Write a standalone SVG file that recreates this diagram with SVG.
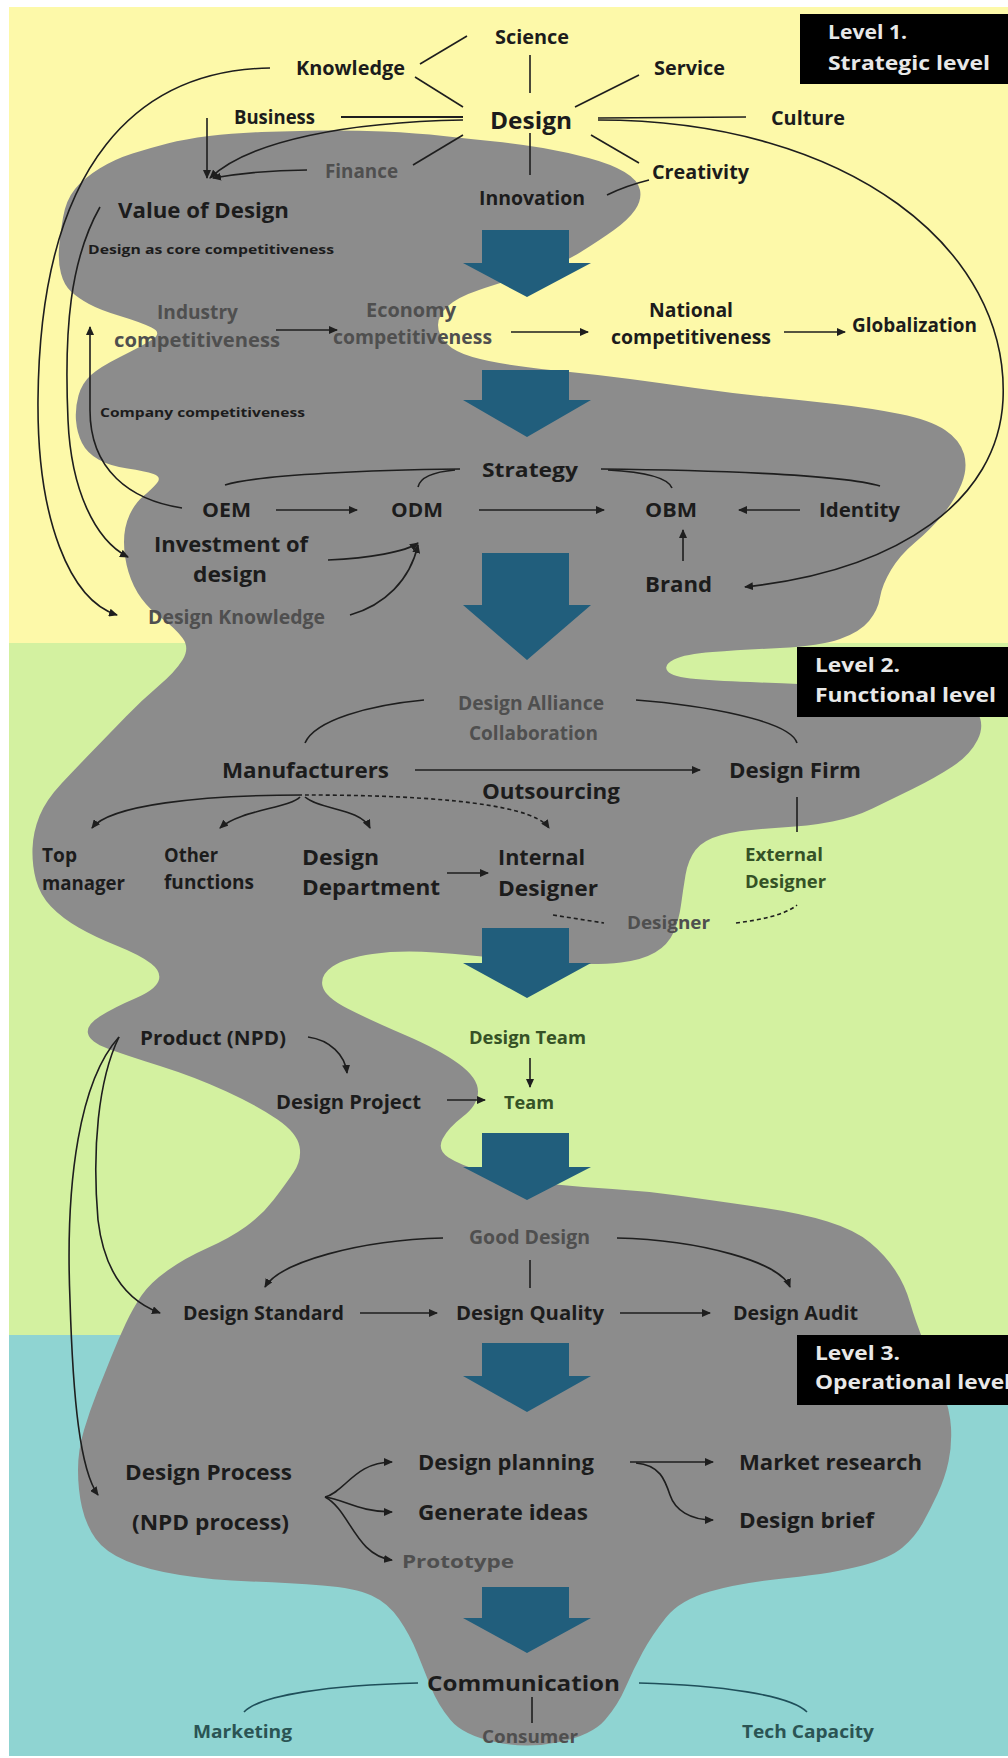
<svg xmlns="http://www.w3.org/2000/svg" width="1008" height="1758" viewBox="0 0 1008 1758">
<style>
.t{font-family:"Open Sans","Liberation Sans",sans-serif;font-weight:700;fill:#1c1c1c}
.s19{font-size:19px}.s18{font-size:18px}.s20{font-size:20px}.s21{font-size:21px}.s22{font-size:22px}.s24{font-size:24px}.s12{font-size:12px}
.g{fill:#4f4f4f}
.gr{fill:#355226}
.tl{fill:#2b5454}
.lv{fill:#e8e8e8;font-size:20px}
.ln{fill:none;stroke:#1e1e1e;stroke-width:1.6}
.ar{marker-end:url(#ah)}
.dash{stroke-dasharray:4 3}
.teal{stroke:#1f4f5a}
.big{fill:#215e7c}
</style>
<defs>
<marker id="ah" markerWidth="9" markerHeight="8" refX="8" refY="4" orient="auto" markerUnits="userSpaceOnUse">
<path d="M0,0 L9,4 L0,8 z" fill="#1e1e1e"/>
</marker>
</defs>

<!-- level bands -->
<rect x="0" y="0" width="1008" height="1758" fill="#ffffff"/>
<rect x="9" y="7" width="999" height="636" fill="#fdf9a9"/>
<rect x="9" y="643" width="999" height="692" fill="#d3f1a0"/>
<rect x="9" y="1335" width="999" height="421" fill="#8fd4d2"/>

<!-- grey flow region -->
<path id="flow" fill="#8c8c8c" d="M59,248.5 Q60,235 63,217.5 Q66,200 75,189 Q84,178 99.5,168.5 Q115,159 132.5,153.5 Q150,148 167.5,143.5 Q185,139 209,136 Q233,133 261.5,132 Q290,131 320,130.5 Q350,130 383.5,131.5 Q417,133 443.5,136 Q470,139 495,141.5 Q520,144 543,148 Q566,152 588.5,158 Q611,164 624.5,172 Q638,180 640,190 Q642,200 635,210 Q628,220 614,230 Q600,240 580,252.5 Q560,265 530,274 Q500,283 479,290 Q458,297 448,306 Q438,315 438,325 Q438,335 446.5,343.5 Q455,352 472.5,357 Q490,362 515,365.5 Q540,369 570,372 Q600,375 630,379 Q660,383 695,388 Q730,393 765,396.5 Q800,400 835,404 Q870,408 900,414 Q930,420 945,430 Q960,440 964,454 Q968,468 961.5,484 Q955,500 942.5,515 Q930,530 915,542.5 Q900,555 891,570 Q882,585 880,597.5 Q878,610 869,621 Q860,632 840,639 Q820,646 780,648 Q740,650 712.5,652 Q685,654 674,659.5 Q663,665 667.5,671 Q672,677 696,679 Q720,681 760,682.5 Q800,684 850,687 Q900,690 935,695 Q970,700 977.5,712.5 Q985,725 977.5,740 Q970,755 952.5,766.5 Q935,778 912.5,789 Q890,800 872.5,808.5 Q855,817 832.5,821.5 Q810,826 775,828 Q740,830 721.5,835 Q703,840 695.5,850 Q688,860 685.5,875 Q683,890 681,905 Q679,920 673.5,932.5 Q668,945 655,952.5 Q642,960 621,962.5 Q600,965 565,963.5 Q530,962 500,958.5 Q470,955 435,952.5 Q400,950 372.5,954 Q345,958 332.5,966.5 Q320,975 322.5,986 Q325,997 347.5,1008.5 Q370,1020 405,1035 Q440,1050 459,1064 Q478,1078 478,1091.5 Q478,1105 463,1116.5 Q448,1128 442.5,1139 Q437,1150 448.5,1157.5 Q460,1165 485,1172.5 Q510,1180 545,1183.5 Q580,1187 612.5,1189 Q645,1191 677.5,1195.5 Q710,1200 755,1206.5 Q800,1213 827.5,1221.5 Q855,1230 870,1242.5 Q885,1255 895,1270 Q905,1285 910,1302.5 Q915,1320 925,1345 Q935,1370 942.5,1390 Q950,1410 951,1427.5 Q952,1445 948.5,1461.5 Q945,1478 937.5,1494 Q930,1510 922.5,1523.5 Q915,1537 902.5,1547.5 Q890,1558 862.5,1565.5 Q835,1573 787.5,1578 Q740,1583 710,1591.5 Q680,1600 666,1617.5 Q652,1635 642.5,1652.5 Q633,1670 625.5,1687.5 Q618,1705 605,1720 Q592,1735 559.5,1742 Q527,1749 495,1742 Q463,1735 450.5,1720 Q438,1705 431,1687.5 Q424,1670 417,1652.5 Q410,1635 399,1619 Q388,1603 371.5,1595.5 Q355,1588 322.5,1585.5 Q290,1583 251,1581.5 Q212,1580 180,1575 Q148,1570 126.5,1561 Q105,1552 95.5,1538.5 Q86,1525 82,1507.5 Q78,1490 78,1470 Q78,1450 84,1430 Q90,1410 97,1392.5 Q104,1375 111,1357.5 Q118,1340 125.5,1324 Q133,1308 141.5,1295.5 Q150,1283 167.5,1270.5 Q185,1258 207.5,1248 Q230,1238 246,1226.5 Q262,1215 273.5,1200 Q285,1185 293.5,1172.5 Q302,1160 299.5,1146.5 Q297,1133 277.5,1119.5 Q258,1106 226.5,1091.5 Q195,1077 160,1066 Q125,1055 107.5,1048.5 Q90,1042 88,1033.5 Q86,1025 100.5,1016 Q115,1007 135,998.5 Q155,990 158.5,981 Q162,972 151,963.5 Q140,955 117.5,946 Q95,937 78.5,927.5 Q62,918 51,906.5 Q40,895 36,880 Q32,865 32.5,848.5 Q33,832 39.5,816 Q46,800 61.5,783.5 Q77,767 93.5,750 Q110,733 126,716.5 Q142,700 158.5,686 Q175,672 182.5,660 Q190,648 182.5,638 Q175,628 162.5,619 Q150,610 141.5,598.5 Q133,587 128.5,572 Q124,557 124,542 Q124,527 129.5,515 Q135,503 143.5,496 Q152,489 157,483 Q162,477 153.5,474 Q145,471 127.5,468.5 Q110,466 98.5,459.5 Q87,453 82,443 Q77,433 76,420.5 Q75,408 78.5,395.5 Q82,383 91,375 Q100,367 120,357 Q140,347 151.5,340 Q163,333 151.5,327.5 Q140,322 120,316 Q100,310 89,304 Q78,298 71,291.5 Q64,285 61,273.5 Q58,262 59,248.5 Z"/>

<!-- downward flow arrows -->
<g id="flow-arrows">
<path class="big" d="M482,230 H569 V263 H591 L527,297 L463,263 H482 Z"/>
<path class="big" d="M482,370 H569 V400 H591 L527,437 L463,400 H482 Z"/>
<path class="big" d="M482,553 H569 V605 H591 L527,660 L463,605 H482 Z"/>
<path class="big" d="M482,928 H569 V963 H591 L527,998 L463,963 H482 Z"/>
<path class="big" d="M482,1133 H569 V1167 H591 L527,1200 L463,1167 H482 Z"/>
<path class="big" d="M482,1343 H569 V1376 H591 L527,1412 L463,1376 H482 Z"/>
<path class="big" d="M482,1587 H569 V1618 H591 L527,1653 L463,1618 H482 Z"/>
</g>

<!-- level labels -->
<g id="level1"><rect x="800" y="14" width="208" height="70" fill="#000"/>
<text class="t lv" x="828" y="39" textLength="79" lengthAdjust="spacingAndGlyphs">Level 1.</text>
<text class="t lv" x="828" y="70" textLength="162" lengthAdjust="spacingAndGlyphs">Strategic level</text></g>
<g id="level2"><rect x="797" y="647" width="211" height="70" fill="#000"/>
<text class="t lv" x="815" y="672" textLength="85" lengthAdjust="spacingAndGlyphs">Level 2.</text>
<text class="t lv" x="815" y="702" textLength="181" lengthAdjust="spacingAndGlyphs">Functional level</text></g>
<g id="level3"><rect x="797" y="1335" width="211" height="70" fill="#000"/>
<text class="t lv" x="815" y="1360" textLength="85" lengthAdjust="spacingAndGlyphs">Level 3.</text>
<text class="t lv" x="815" y="1389" textLength="196" lengthAdjust="spacingAndGlyphs">Operational level</text></g>

<!-- connectors -->
<g id="connectors">
<path class="ln" d="M420,64 L467,36"/>
<path class="ln" d="M415,77 L463,107"/>
<path class="ln" d="M530,55 L530,93"/>
<path class="ln" d="M639,75 L575,107"/>
<path class="ln" d="M341,117 L463,117" style="stroke-width:2"/>
<path class="ln" d="M598,118 L746,117"/>
<path class="ln" d="M463,135 L413,165"/>
<path class="ln" d="M530,133 L530,175"/>
<path class="ln" d="M591,135 L639,163"/>
<path class="ln" d="M649,180 Q625,186 607,195"/>
<path class="ln ar" d="M207,118 L207,178"/>
<path class="ln ar" d="M463,120 C350,122 250,140 210,178"/>
<path class="ln ar" d="M307,170 Q260,170 213,178"/>
<path class="ln ar" d="M270,68 C140,70 40,160 38,400 C37,520 70,600 117,615"/>
<path class="ln ar" d="M100,207 C70,260 64,330 68,420 C71,490 95,540 128,557"/>
<path class="ln ar" d="M182,508 C130,500 90,470 90,410 L90,327"/>
<path class="ln ar" d="M276,330 L337,330"/>
<path class="ln ar" d="M511,332 L588,332"/>
<path class="ln ar" d="M784,332 L845,332"/>
<path class="ln" d="M460,469 C380,470 260,474 225,485"/>
<path class="ln" d="M455,470 C432,472 420,478 418,487"/>
<path class="ln" d="M601,469 C700,470 840,474 880,486"/>
<path class="ln" d="M608,470 C645,472 668,478 672,488"/>
<path class="ln ar" d="M276,510 L357,510"/>
<path class="ln ar" d="M479,510 L604,510"/>
<path class="ln ar" d="M800,510 L739,510"/>
<path class="ln ar" d="M683,561 L683,530"/>
<path class="ln ar" d="M328,560 C370,558 405,552 418,543"/>
<path class="ln ar" d="M350,615 C385,605 410,580 418,545"/>
<path class="ln ar" d="M598,120 C850,120 1010,250 1003,400 C998,500 900,570 745,587"/>
<path class="ln" d="M424,700 C370,705 315,720 305,743"/>
<path class="ln" d="M636,700 C700,705 790,720 797,743"/>
<path class="ln ar" d="M415,770 L700,770"/>
<path class="ln ar" d="M302,795 C200,795 110,805 92,828"/>
<path class="ln ar" d="M300,797 C290,808 240,810 220,828"/>
<path class="ln ar" d="M305,797 C320,810 360,808 370,828"/>
<path class="ln ar dash" d="M305,795 C400,795 530,800 549,828"/>
<path class="ln ar" d="M447,873 L488,873"/>
<path class="ln" d="M797,797 L797,832"/>
<path class="ln dash" d="M553,915 L604,923"/>
<path class="ln dash" d="M736,923 C760,920 785,915 797,905"/>
<path class="ln ar" d="M308,1037 C330,1040 345,1055 347,1073"/>
<path class="ln ar" d="M530,1058 L530,1087"/>
<path class="ln ar" d="M447,1100 L485,1100"/>
<path class="ln ar" d="M119,1037 C98,1080 92,1150 98,1220 C104,1270 125,1300 160,1313"/>
<path class="ln ar" d="M119,1037 C80,1080 65,1180 70,1300 C73,1400 80,1470 98,1495"/>
<path class="ln ar" d="M443,1238 C360,1240 280,1262 265,1287"/>
<path class="ln ar" d="M617,1238 C700,1240 780,1262 790,1287"/>
<path class="ln" d="M530,1260 L530,1288"/>
<path class="ln ar" d="M360,1313 L437,1313"/>
<path class="ln ar" d="M620,1313 L710,1313"/>
<path class="ln ar" d="M325,1497 C345,1492 355,1462 392,1462"/>
<path class="ln ar" d="M325,1497 C345,1500 360,1512 392,1512"/>
<path class="ln ar" d="M325,1497 C350,1510 355,1555 392,1560"/>
<path class="ln ar" d="M630,1462 L713,1462"/>
<path class="ln ar" d="M636,1463 C660,1465 665,1480 670,1495 C675,1510 690,1520 713,1520"/>
<path class="ln teal" d="M418,1683 C330,1685 260,1695 244,1712"/>
<path class="ln teal" d="M639,1683 C720,1685 790,1695 807,1712"/>
<path class="ln" d="M532,1697 L532,1723"/>
</g>

<!-- nodes -->
<g id="science"><text class="t s19" x="495" y="44" textLength="74" lengthAdjust="spacingAndGlyphs">Science</text></g>
<g id="knowledge"><text class="t s19" x="296" y="75" textLength="109" lengthAdjust="spacingAndGlyphs">Knowledge</text></g>
<g id="service"><text class="t s19" x="654" y="75" textLength="71" lengthAdjust="spacingAndGlyphs">Service</text></g>
<g id="business"><text class="t s19" x="234" y="124" textLength="81" lengthAdjust="spacingAndGlyphs">Business</text></g>
<g id="design"><text class="t s24" x="490" y="129" textLength="82" lengthAdjust="spacingAndGlyphs">Design</text></g>
<g id="culture"><text class="t s19" x="771" y="125" textLength="74" lengthAdjust="spacingAndGlyphs">Culture</text></g>
<g id="finance"><text class="t s19 g" x="325" y="178" textLength="73" lengthAdjust="spacingAndGlyphs">Finance</text></g>
<g id="creativity"><text class="t s19" x="652" y="179" textLength="97" lengthAdjust="spacingAndGlyphs">Creativity</text></g>
<g id="innovation"><text class="t s19" x="479" y="205" textLength="106" lengthAdjust="spacingAndGlyphs">Innovation</text></g>
<g id="value-of-design"><text class="t s22" x="118" y="218" textLength="171" lengthAdjust="spacingAndGlyphs">Value of Design</text></g>
<g id="core-competitiveness"><text class="t s12" x="88" y="254" textLength="246" lengthAdjust="spacingAndGlyphs">Design as core competitiveness</text></g>
<g id="industry"><text class="t s19 g" x="157" y="319" textLength="81" lengthAdjust="spacingAndGlyphs">Industry</text>
<text class="t s19 g" x="114" y="347" textLength="166" lengthAdjust="spacingAndGlyphs">competitiveness</text></g>
<g id="economy"><text class="t s19 g" x="366" y="317" textLength="90" lengthAdjust="spacingAndGlyphs">Economy</text>
<text class="t s19 g" x="333" y="344" textLength="159" lengthAdjust="spacingAndGlyphs">competitiveness</text></g>
<g id="national"><text class="t s19" x="649" y="317" textLength="84" lengthAdjust="spacingAndGlyphs">National</text>
<text class="t s19" x="611" y="344" textLength="160" lengthAdjust="spacingAndGlyphs">competitiveness</text></g>
<g id="globalization"><text class="t s19" x="852" y="332" textLength="125" lengthAdjust="spacingAndGlyphs">Globalization</text></g>
<g id="company"><text class="t s12" x="100" y="417" textLength="205" lengthAdjust="spacingAndGlyphs">Company competitiveness</text></g>
<g id="strategy"><text class="t s20" x="482" y="477" textLength="96" lengthAdjust="spacingAndGlyphs">Strategy</text></g>
<g id="oem"><text class="t s19" x="202" y="517" textLength="49" lengthAdjust="spacingAndGlyphs">OEM</text></g>
<g id="odm"><text class="t s19" x="391" y="517" textLength="52" lengthAdjust="spacingAndGlyphs">ODM</text></g>
<g id="obm"><text class="t s19" x="645" y="517" textLength="52" lengthAdjust="spacingAndGlyphs">OBM</text></g>
<g id="identity"><text class="t s19" x="819" y="517" textLength="81" lengthAdjust="spacingAndGlyphs">Identity</text></g>
<g id="investment"><text class="t s21" x="154" y="552" textLength="154" lengthAdjust="spacingAndGlyphs">Investment of</text>
<text class="t s21" x="193" y="582" textLength="74" lengthAdjust="spacingAndGlyphs">design</text></g>
<g id="brand"><text class="t s21" x="645" y="592" textLength="67" lengthAdjust="spacingAndGlyphs">Brand</text></g>
<g id="design-knowledge"><text class="t s19 g" x="148" y="624" textLength="177" lengthAdjust="spacingAndGlyphs">Design Knowledge</text></g>

<g id="alliance"><text class="t s19 g" x="458" y="710" textLength="146" lengthAdjust="spacingAndGlyphs">Design Alliance</text>
<text class="t s19 g" x="469" y="740" textLength="129" lengthAdjust="spacingAndGlyphs">Collaboration</text></g>
<g id="manufacturers"><text class="t s22" x="222" y="778" textLength="167" lengthAdjust="spacingAndGlyphs">Manufacturers</text></g>
<g id="design-firm"><text class="t s22" x="729" y="778" textLength="132" lengthAdjust="spacingAndGlyphs">Design Firm</text></g>
<g id="outsourcing"><text class="t s21" x="482" y="799" textLength="138" lengthAdjust="spacingAndGlyphs">Outsourcing</text></g>
<g id="top-manager"><text class="t s19" x="42" y="862" textLength="35" lengthAdjust="spacingAndGlyphs">Top</text>
<text class="t s19" x="42" y="890" textLength="83" lengthAdjust="spacingAndGlyphs">manager</text></g>
<g id="other-functions"><text class="t s19" x="164" y="862" textLength="54" lengthAdjust="spacingAndGlyphs">Other</text>
<text class="t s19" x="164" y="889" textLength="90" lengthAdjust="spacingAndGlyphs">functions</text></g>
<g id="design-department"><text class="t s22" x="302" y="865" textLength="77" lengthAdjust="spacingAndGlyphs">Design</text>
<text class="t s22" x="302" y="895" textLength="138" lengthAdjust="spacingAndGlyphs">Department</text></g>
<g id="internal-designer"><text class="t s22" x="498" y="865" textLength="87" lengthAdjust="spacingAndGlyphs">Internal</text>
<text class="t s22" x="498" y="896" textLength="100" lengthAdjust="spacingAndGlyphs">Designer</text></g>
<g id="external-designer"><text class="t s18 gr" x="745" y="861" textLength="78" lengthAdjust="spacingAndGlyphs">External</text>
<text class="t s18 gr" x="745" y="888" textLength="81" lengthAdjust="spacingAndGlyphs">Designer</text></g>
<g id="designer"><text class="t s18 g" x="627" y="929" textLength="83" lengthAdjust="spacingAndGlyphs">Designer</text></g>
<g id="product"><text class="t s19" x="140" y="1045" textLength="146" lengthAdjust="spacingAndGlyphs">Product (NPD)</text></g>
<g id="design-team"><text class="t s18 gr" x="469" y="1044" textLength="117" lengthAdjust="spacingAndGlyphs">Design Team</text></g>
<g id="design-project"><text class="t s19" x="276" y="1109" textLength="145" lengthAdjust="spacingAndGlyphs">Design Project</text></g>
<g id="team"><text class="t s18 gr" x="504" y="1109" textLength="50" lengthAdjust="spacingAndGlyphs">Team</text></g>
<g id="good-design"><text class="t s19 g" x="469" y="1244" textLength="121" lengthAdjust="spacingAndGlyphs">Good Design</text></g>
<g id="design-standard"><text class="t s19" x="183" y="1320" textLength="161" lengthAdjust="spacingAndGlyphs">Design Standard</text></g>
<g id="design-quality"><text class="t s19" x="456" y="1320" textLength="148" lengthAdjust="spacingAndGlyphs">Design Quality</text></g>
<g id="design-audit"><text class="t s19" x="733" y="1320" textLength="125" lengthAdjust="spacingAndGlyphs">Design Audit</text></g>

<g id="design-process"><text class="t s22" x="125" y="1480" textLength="167" lengthAdjust="spacingAndGlyphs">Design Process</text>
<text class="t s22" x="132" y="1530" textLength="157" lengthAdjust="spacingAndGlyphs">(NPD process)</text></g>
<g id="design-planning"><text class="t s22" x="418" y="1470" textLength="176" lengthAdjust="spacingAndGlyphs">Design planning</text></g>
<g id="generate-ideas"><text class="t s22" x="418" y="1520" textLength="170" lengthAdjust="spacingAndGlyphs">Generate ideas</text></g>
<g id="prototype"><text class="t s18 g" x="402" y="1568" textLength="112" lengthAdjust="spacingAndGlyphs">Prototype</text></g>
<g id="market-research"><text class="t s22" x="739" y="1470" textLength="183" lengthAdjust="spacingAndGlyphs">Market research</text></g>
<g id="design-brief"><text class="t s22" x="739" y="1528" textLength="135" lengthAdjust="spacingAndGlyphs">Design brief</text></g>
<g id="communication"><text class="t s22" x="427" y="1691" textLength="193" lengthAdjust="spacingAndGlyphs">Communication</text></g>
<g id="marketing"><text class="t s18 tl" x="193" y="1738" textLength="99" lengthAdjust="spacingAndGlyphs">Marketing</text></g>
<g id="consumer"><text class="t s18 g" x="482" y="1743" textLength="96" lengthAdjust="spacingAndGlyphs">Consumer</text></g>
<g id="tech-capacity"><text class="t s18 tl" x="742" y="1738" textLength="132" lengthAdjust="spacingAndGlyphs">Tech Capacity</text></g>
</svg>
